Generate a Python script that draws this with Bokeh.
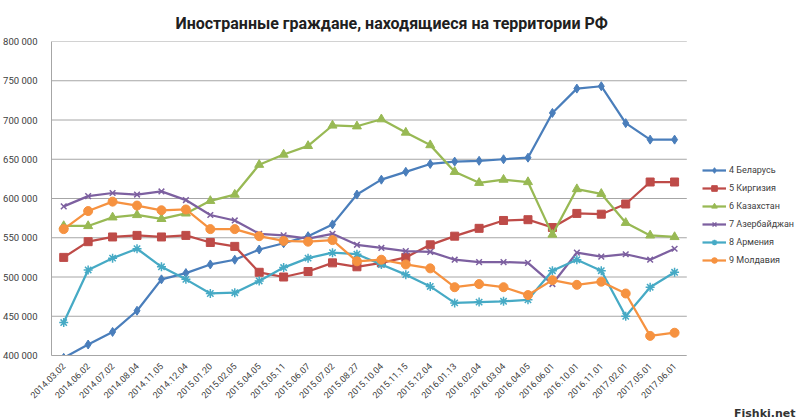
from math import pi
from bokeh.plotting import figure
from bokeh.models import Range1d, FixedTicker, Legend, LegendItem, Title
from bokeh.embed import file_html
from bokeh.resources import INLINE

dates = ["2014.03.02", "2014.06.02", "2014.07.02", "2014.08.04", "2014.11.05", "2014.12.04",
         "2015.01.20", "2015.02.05", "2015.04.05", "2015.05.11", "2015.06.07", "2015.07.02",
         "2015.08.27", "2015.10.04", "2015.11.15", "2015.12.04", "2016.01.13", "2016.02.04",
         "2016.03.04", "2016.04.05", "2016.06.01", "2016.10.01", "2016.11.01", "2017.02.01",
         "2017.05.01", "2017.06.01"]

belarus = [397000, 414000, 430000, 457000, 497000, 505000, 516000, 522000, 535000, 543000,
           552000, 567000, 605000, 624000, 634000, 644000, 647000, 648000, 650000, 652000,
           709000, 740000, 743000, 696000, 675000, 675000]
kyrgyzstan = [525000, 545000, 551000, 553000, 551000, 553000, 544000, 539000, 506000, 500000,
              507000, 518000, 513000, 518000, 525000, 541000, 552000, 562000, 572000, 573000,
              563000, 581000, 580000, 593000, 621000, 621000]
kazakhstan = [565000, 565000, 576000, 579000, 574000, 581000, 597000, 605000, 643000, 656000,
              667000, 693000, 692000, 701000, 684000, 668000, 634000, 620000, 624000, 621000,
              554000, 612000, 606000, 569000, 553000, 551000]
azerbaijan = [590000, 603000, 607000, 605000, 609000, 598000, 579000, 572000, 555000, 553000,
              549000, 555000, 541000, 537000, 533000, 532000, 522000, 519000, 519000, 518000,
              491000, 531000, 526000, 529000, 522000, 536000]
armenia = [442000, 509000, 524000, 536000, 513000, 497000, 479000, 480000, 495000, 512000,
           524000, 531000, 529000, 516000, 503000, 488000, 467000, 468000, 469000, 471000,
           508000, 522000, 508000, 450000, 487000, 506000]
moldova = [561000, 584000, 596000, 591000, 585000, 586000, 561000, 561000, 552000, 546000,
           545000, 547000, 520000, 522000, 516000, 511000, 487000, 491000, 487000, 477000,
           496000, 490000, 494000, 479000, 425000, 429000]

series_names = ["4 Беларусь", "5 Киргизия", "6 Казахстан", "7 Азербайджан", "8 Армения", "9 Молдавия"]
series_values = [belarus, kyrgyzstan, kazakhstan, azerbaijan, armenia, moldova]
y_ticks = [400000, 450000, 500000, 550000, 600000, 650000, 700000, 750000, 800000]
watermark = "Fishki.net"

line_colors = ["#4A7EBB", "#BE4B48", "#98B954", "#7D60A0", "#46AAC5", "#F69240"]
markers = ["diamond", "square", "triangle", "x", "asterisk", "circle"]
msizes = [9, 8, 9, 8, 9, 9]

TXT = "#404040"
FONT = "Roboto"
GRID = "#A6A6A6"

# layout: frame spans from x=49 to the right edge; categories are 24.5 px apart,
# the plotted area of the chart ends after the last category, the rest holds the legend
W, H = 800, 419
LEFT = 49
STEP = 24.5
n = len(dates)
xs = list(range(n))
x_end = -0.5 + (W - LEFT) / STEP

p = figure(width=W, height=H, x_range=Range1d(-0.5, x_end), y_range=Range1d(400000, 800000),
           output_backend="svg", toolbar_location=None,
           min_border_left=LEFT, min_border_right=0, min_border_top=41, min_border_bottom=55)
p.outline_line_color = None
p.xgrid.grid_line_color = None
p.ygrid.grid_line_color = None

p.title.text = "Иностранные граждане, находящиеся на территории РФ"
p.title.align = "left"
p.title.offset = 124
p.title.standoff = 17
p.title.text_font = FONT
p.title.text_font_style = "bold"
p.title.text_font_size = "16px"
p.title.text_color = "#202020"

# horizontal gridlines limited to the category area
p.segment(x0=[-0.5] * len(y_ticks), y0=y_ticks, x1=[n - 0.5] * len(y_ticks), y1=y_ticks,
          line_color=GRID, line_width=1)

p.yaxis.ticker = FixedTicker(ticks=y_ticks)
p.yaxis.major_label_overrides = {v: f"{v // 1000} 000" for v in y_ticks}
p.yaxis.major_tick_line_color = None
p.yaxis.minor_tick_line_color = None
p.yaxis.axis_line_color = GRID
p.yaxis.major_label_standoff = 8
p.yaxis.major_label_text_font = FONT
p.yaxis.major_label_text_font_size = "9.5px"
p.yaxis.major_label_text_color = TXT

p.xaxis.ticker = FixedTicker(ticks=xs)
p.xaxis.major_label_overrides = {i: d for i, d in zip(xs, dates)}
p.xaxis.bounds = (-0.5, n - 0.5)
p.xaxis.major_label_orientation = pi / 4
p.xaxis.major_tick_line_color = None
p.xaxis.minor_tick_line_color = None
p.xaxis.axis_line_color = GRID
p.xaxis.major_label_standoff = 3
p.xaxis.major_label_text_font = FONT
p.xaxis.major_label_text_font_size = "9px"
p.xaxis.major_label_text_color = TXT

items = []
for name, vals, col, mk, ms in zip(series_names, series_values, line_colors, markers, msizes):
    rl = p.line(xs, vals, line_color=col, line_width=2.25)
    lw = 1.5 if mk in ("x", "asterisk") else 1
    rs = p.scatter(xs, vals, marker=mk, size=ms, fill_color=col, line_color=col, line_width=lw)
    items.append(LegendItem(label=name, renderers=[rl, rs]))

legend = Legend(items=items, location=(651, 88), glyph_width=24, glyph_height=14, label_height=14,
                spacing=4, padding=0, margin=0, label_standoff=3,
                border_line_alpha=0, background_fill_alpha=0,
                label_text_font=FONT, label_text_font_size="9px", label_text_color=TXT)
p.add_layout(legend)

wm = Title(text=watermark, align="right", offset=5, standoff=0, text_font="DejaVu Sans",
           text_font_style="bold", text_font_size="11px", text_color="#333333")
p.add_layout(wm, "below")

open("out.html", "w").write(file_html(p, INLINE))
